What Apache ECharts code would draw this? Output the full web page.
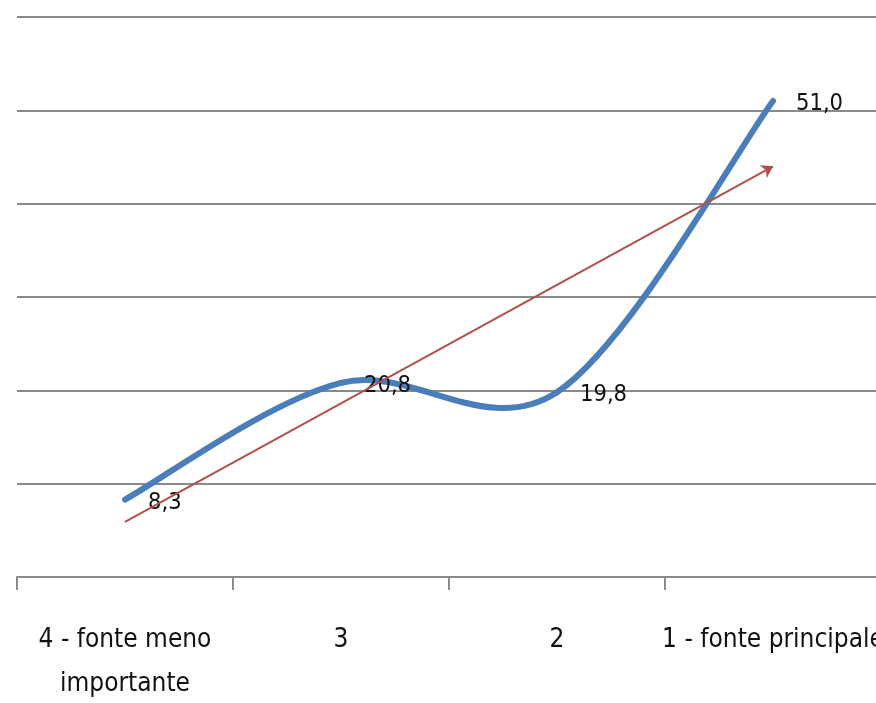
<!DOCTYPE html>
<html>
<head>
<meta charset="utf-8">
<script src="https://cdn.jsdelivr.net/npm/echarts@6/dist/echarts.min.js"></script>
<style>
  html, body { margin: 0; padding: 0; background: #fff; }
  #chart { width: 876px; height: 703px; }
</style>
</head>
<body>
<div id="chart"></div>
<script>
// Importance ranking of the source (left = least important, right = main source)
const categories = ['4 - fonte meno\nimportante', '3', '2', '1 - fonte principale'];
// Share of answers (%) for each rank
const shares = [8.3, 20.8, 19.8, 51.0];
// Linear trend: values at the first and last category
const trendEnds = [5.9, 44.0];
// Value axis range
const yMin = 0, yMax = 60, yStep = 10;

const FONT = '"DejaVu Sans Condensed", "Liberation Sans Narrow", "Liberation Sans", sans-serif';
const GRID_COLOR = '#8a8a8a';

// Smoothed curve segment between category k and k+1 (cubic Bézier,
// tangents from neighbouring points, 1/6 tension)
function renderSegment(params, api) {
  const k = params.dataIndex;
  const n = shares.length;
  if (k >= n - 1) return null;
  const P = i => api.coord([Math.max(0, Math.min(n - 1, i)), shares[Math.max(0, Math.min(n - 1, i))]]);
  const p0 = P(k - 1), p1 = P(k), p2 = P(k + 1), p3 = P(k + 2);
  return {
    type: 'bezierCurve',
    shape: {
      x1: p1[0], y1: p1[1],
      x2: p2[0], y2: p2[1],
      cpx1: p1[0] + (p2[0] - p0[0]) / 6,
      cpy1: p1[1] + (p2[1] - p0[1]) / 6,
      cpx2: p2[0] - (p3[0] - p1[0]) / 6,
      cpy2: p2[1] - (p3[1] - p1[1]) / 6
    },
    style: { stroke: '#4a7ebb', lineWidth: 6, fill: null, lineCap: 'round' },
    silent: true
  };
}

const chart = echarts.init(document.getElementById('chart'));
chart.setOption({
  animation: false,
  backgroundColor: '#ffffff',
  grid: { left: 17, top: 17, bottom: 126, width: 864, containLabel: false, outerBoundsMode: 'none' },
  xAxis: {
    type: 'category',
    data: categories,
    boundaryGap: true,
    axisLine: { show: true, lineStyle: { color: GRID_COLOR, width: 2 } },
    axisTick: { show: true, alignWithLabel: false, length: 13, lineStyle: { color: GRID_COLOR, width: 2 } },
    axisLabel: {
      interval: 0,
      margin: 41,
      color: '#111',
      fontFamily: FONT,
      fontSize: 26,
      lineHeight: 44,
      verticalAlign: 'top',
      hideOverlap: false
    },
    splitLine: { show: false }
  },
  yAxis: {
    type: 'value',
    min: yMin, max: yMax, interval: yStep,
    axisLine: { show: false },
    axisTick: { show: false },
    axisLabel: { show: false },
    splitLine: { show: true, lineStyle: { color: GRID_COLOR, width: 2 } }
  },
  series: [
    {
      type: 'custom',
      data: shares.map((v, i) => [i, v]),
      encode: { x: 0, y: 1 },
      renderItem: renderSegment,
      z: 2
    },
    {
      // value labels and the trend arrow
      type: 'line',
      data: shares,
      symbol: 'circle',
      symbolSize: 2,
      itemStyle: { color: 'rgba(0,0,0,0)' },
      lineStyle: { width: 0, opacity: 0 },
      label: {
        show: true,
        position: 'right',
        distance: 22,
        offset: [0, 3],
        color: '#111',
        fontFamily: FONT,
        fontSize: 23.5,
        formatter: p => p.value.toFixed(1).replace('.', ',')
      },
      markLine: {
        silent: true,
        symbol: ['none', 'arrow'],
        symbolSize: 11,
        label: { show: false },
        lineStyle: { color: '#b0504c', width: 2, type: 'solid' },
        data: [[
          { coord: [0, trendEnds[0]] },
          { coord: [categories.length - 1, trendEnds[1]] }
        ]]
      },
      z: 3
    }
  ]
});
</script>
</body>
</html>
